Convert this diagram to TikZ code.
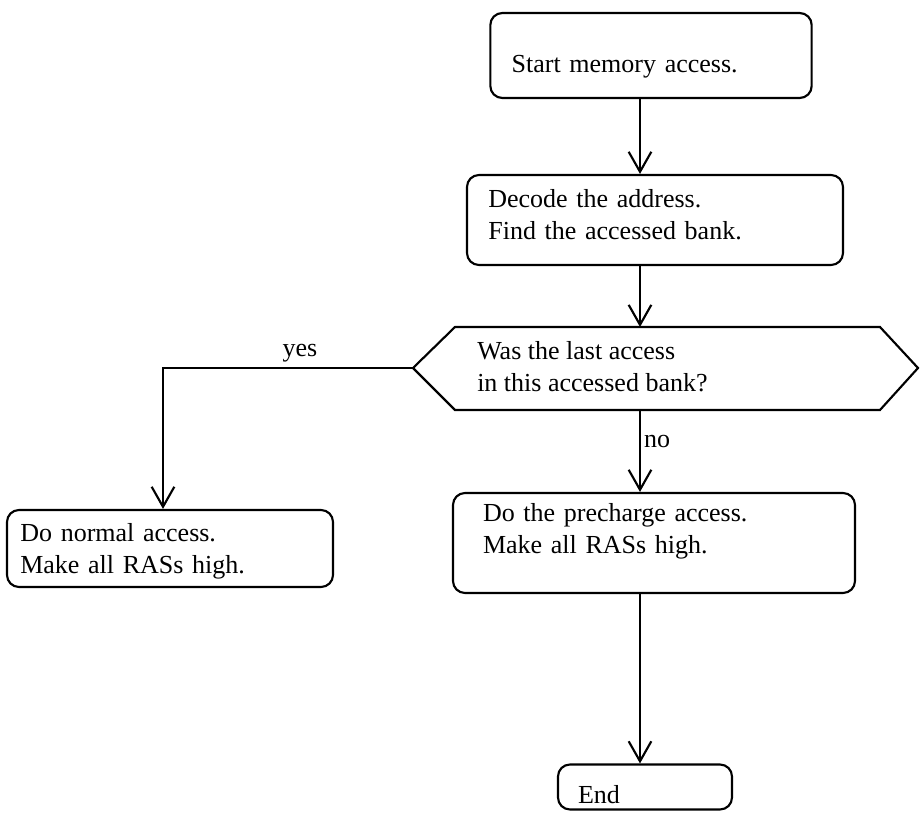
\documentclass[tikz,border=0pt]{standalone}
\usepackage{fontspec}
\setmainfont{Liberation Serif}
\usepackage{tikz}
\usetikzlibrary{arrows.meta}

\tikzset{
  stepbox/.style={draw, line width=1.6pt, rounded corners=9pt, align=left, inner xsep=16pt, inner ysep=0pt},
  flow/.style={draw, line width=1.6pt, -{Straight Barb[length=15pt,width=17pt]}},
}

\begin{document}
\begin{tikzpicture}[x=0.75pt,y=0.75pt,yscale=-1,xscale=1, font=\fontsize{19.5}{24}\selectfont]
\useasboundingbox (0,0) rectangle (921,831);

% columns for the connectors
\coordinate (xcol) at (640,0);
\coordinate (yesx) at (163,0);

%Shape: Rounded Rect [start]
\node [stepbox, text width=209pt, minimum height=63.75pt, text height=29.5pt, text depth=4.2pt] (start) at (651,55.5) {Start memory access.};
%Shape: Rounded Rect [decode]
\node [stepbox, text width=250pt, minimum height=67.5pt, text height=13.5pt, text depth=31.8pt] (decode) at (655,220) {Decode the address.\\Find the accessed bank.};

%Shape: Hexagon [ask]
\draw [line width=1.6pt] (413,368) coordinate (askw) -- (455,327) -- (640,327) coordinate (askn) -- (880,327) -- (918,368) -- (880,410) -- (640,410) coordinate (asks) -- (455,410) -- cycle ;
% Text Node
\node [anchor=west, align=left, inner sep=0pt] (ask) at (477,367) {Was the last access\\in this accessed bank?};

%Shape: Rounded Rect [normal]
\node [stepbox, inner xsep=10pt, text width=224.5pt, minimum height=57.75pt, text height=18pt, text depth=28.2pt] (normal) at (170,548.5) {Do normal access.\\Make all RASs high.};
%Shape: Rounded Rect [precharge]
\node [stepbox, inner xsep=22.5pt, text width=256.5pt, minimum height=75pt, text height=13.5pt, text depth=46.2pt] (precharge) at (654,543) {Do the precharge access.\\Make all RASs high.};
%Shape: Rounded Rect [end]
\node [stepbox, inner xsep=15pt, text width=100.5pt, minimum height=33.75pt, text height=28.5pt, text depth=4.2pt] (end) at (645,787) {End};

%Straight Lines
\draw [flow] (start.south -| xcol) -- (decode.north -| xcol) ;
\draw [flow] (decode.south -| xcol) -- (askn) ;
\draw [flow] (asks) -- (precharge.north -| xcol) ;
\draw [flow] (precharge.south -| xcol) -- (end.north -| xcol) ;
\draw [flow] (askw) -| (normal.north -| yesx) ;

% Text Node
\node [inner sep=0.75pt] (yes) at (300,353) {yes};
% Text Node
\node [inner sep=0.75pt] (no) at (657,441) {no};

\end{tikzpicture}
\end{document}
